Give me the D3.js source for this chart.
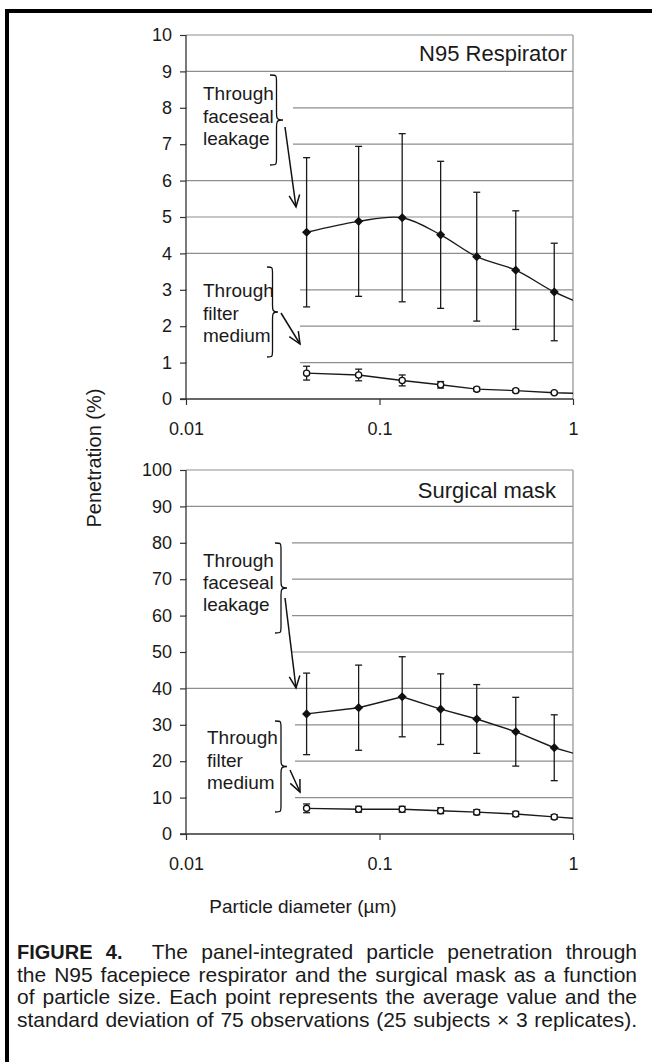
<!DOCTYPE html>
<html><head><meta charset="utf-8">
<script src="https://cdn.jsdelivr.net/npm/d3@7"></script>
<style>
body{margin:0;background:#fff}
svg{display:block}
text{font-family:"Liberation Sans",Arial,Helvetica,sans-serif;fill:#1a1a1a}
</style>
</head><body>
<svg id="c" width="652" height="1062"></svg>
<script>
// ---------- data ----------
const sizes = [0.042, 0.078, 0.131, 0.207, 0.318, 0.506, 0.80, 1.2]; // last point lies beyond the axis (line runs off the plot)
const n95Faceseal   = [4.58, 4.88, 4.98, 4.51, 3.91, 3.54, 2.94, 2.54];
const n95FacesealSD = [2.05, 2.06, 2.31, 2.02, 1.77, 1.63, 1.34];
const n95Filter     = [0.71, 0.66, 0.51, 0.39, 0.27, 0.23, 0.17, 0.15];
const n95FilterSD   = [0.19, 0.16, 0.15, 0.09, 0.05, 0.04, 0.03];
const smFaceseal    = [33.0, 34.7, 37.7, 34.3, 31.6, 28.1, 23.7, 21.0];
const smFacesealSD  = [11.2, 11.7, 11.0, 9.7, 9.45, 9.45, 9.05];
const smFilter      = [7.05, 6.8, 6.8, 6.4, 6.0, 5.5, 4.7, 4.0];
const smFilterSD    = [1.2, 0.8, 0.8, 0.8, 0.7, 0.7, 0.6];
const xTicks = [0.01, 0.1, 1];
const xTickLabels = ["0.01", "0.1", "1"];
const yTicksTop = [0,1,2,3,4,5,6,7,8,9,10];
const yTicksBottom = [0,10,20,30,40,50,60,70,80,90,100];
const panelTitles = ["N95 Respirator", "Surgical mask"];
const annoFaceseal = ["Through", "faceseal", "leakage"];
const annoFilter = ["Through", "filter", "medium"];
const yTitle = "Penetration (%)";
const xTitle = "Particle diameter (\u00b5m)";
const captionLines = [
  [["FIGURE",1],["4.",1],["The",0],["panel-integrated",0],["particle",0],["penetration",0],["through",0]],
  "the N95 facepiece respirator and the surgical mask as a function".split(" ").map(w=>[w,0]),
  "of particle size. Each point represents the average value and the".split(" ").map(w=>[w,0]),
  "standard deviation of 75 observations (25 subjects \u00d7 3 replicates).".split(" ").map(w=>[w,0])
];

const svg = d3.select("#c");
const FONT = '"Liberation Sans",Arial,Helvetica,sans-serif';

// frame (top and left rules)
svg.append("rect").attr("x",5).attr("y",9).attr("width",647).attr("height",4).attr("fill","#000");
svg.append("rect").attr("x",5).attr("y",9).attr("width",4).attr("height",1053).attr("fill","#000");

function brace(g, xa, xb, y0, y1){
  const xm = (xa+xb)/2, ym = (y0+y1)/2, r = 7;
  const p = `M${xa},${y0} C${xm},${y0} ${xm},${y0} ${xm},${y0+r} L${xm},${ym-r} C${xm},${ym-2} ${xm},${ym} ${xb},${ym} C${xm},${ym} ${xm},${ym+2} ${xm},${ym+r} L${xm},${y1-r} C${xm},${y1} ${xm},${y1} ${xa},${y1}`;
  g.append("path").attr("d",p).attr("fill","none").attr("stroke","#111").attr("stroke-width",1.3);
}
function arrow(g, x0, y0, x1, y1){
  g.append("line").attr("x1",x0).attr("y1",y0).attr("x2",x1).attr("y2",y1)
    .attr("stroke","#111").attr("stroke-width",1.5);
  const a = Math.atan2(y1-y0, x1-x0), L = 13, s = 0.42;
  const p = `M${x1-L*Math.cos(a-s)},${y1-L*Math.sin(a-s)} L${x1},${y1} L${x1-L*Math.cos(a+s)},${y1-L*Math.sin(a+s)}`;
  g.append("path").attr("d",p).attr("fill","none").attr("stroke","#111").attr("stroke-width",1.5);
}

function panel(cfg){
  const x = d3.scaleLog().domain([0.01,1]).range([186,573]);
  const y = d3.scaleLinear().domain([0,cfg.ymax]).range([cfg.bottom,cfg.top]);
  const g = svg.append("g");
  const clipId = "clip"+cfg.id;
  g.append("clipPath").attr("id",clipId).append("rect")
    .attr("x",186).attr("y",cfg.top-10).attr("width",573-186).attr("height",cfg.bottom-cfg.top+20);

  // gridlines
  g.selectAll(".grid").data(cfg.yticks.filter(v=>v>0)).join("line")
    .attr("x1",186).attr("x2",573).attr("y1",d=>y(d)).attr("y2",d=>y(d))
    .attr("stroke","#8e8e8e").attr("stroke-width",1.2);
  // plot-area right border
  g.append("line").attr("x1",573).attr("x2",573).attr("y1",y(cfg.ymax)).attr("y2",y(0))
    .attr("stroke","#9a9a9a").attr("stroke-width",1.3);

  // white boxes behind annotations
  cfg.boxes.forEach(b=>{
    g.append("rect").attr("x",b[0]).attr("y",b[1]).attr("width",b[2]-b[0]).attr("height",b[3]-b[1]).attr("fill","#fff");
  });

  // axes
  const ya = d3.axisLeft(y).tickValues(cfg.yticks).tickSize(6).tickFormat(d=>d);
  const yg = g.append("g").attr("transform","translate(186,0)").call(ya);
  yg.select(".domain").attr("stroke","#333").attr("stroke-width",1.3).attr("d",`M0,${y(0)}V${y(cfg.ymax)}`);
  yg.selectAll(".tick line").attr("stroke","#333").attr("stroke-width",1.2);
  yg.selectAll(".tick text").attr("x",-14).attr("font-size",18).attr("font-family",FONT).attr("fill","#1a1a1a");

  const xa = d3.axisBottom(x).tickValues(xTicks).tickSize(6).tickFormat((d,i)=>xTickLabels[i]);
  const xg = g.append("g").attr("transform",`translate(0,${y(0)})`).call(xa);
  xg.select(".domain").attr("stroke","#333").attr("stroke-width",1.3).attr("d",`M180,0H573`);
  xg.selectAll(".tick line").attr("stroke","#333").attr("stroke-width",1.2);
  xg.selectAll(".tick text").attr("y",23).attr("font-size",18).attr("font-family",FONT).attr("fill","#1a1a1a");

  const sg = g.append("g").attr("clip-path",`url(#${clipId})`);
  function series(vals, sds, curve, filled){
    const line = d3.line().x((d,i)=>x(sizes[i])).y(d=>y(d)).curve(curve);
    sg.append("path").attr("d",line(vals)).attr("fill","none").attr("stroke","#1a1a1a").attr("stroke-width",1.4);
    const pts = vals.map((v,i)=>({x:sizes[i],v,sd:sds[i]})).filter(d=>d.x<=1);
    const eb = g.append("g");
    pts.forEach(d=>{
      const cx = x(d.x), yt = y(d.v+d.sd), yb = y(d.v-d.sd);
      eb.append("line").attr("x1",cx).attr("x2",cx).attr("y1",yt).attr("y2",yb).attr("stroke","#1a1a1a").attr("stroke-width",1.3);
      [yt,yb].forEach(yy=>eb.append("line").attr("x1",cx-3.5).attr("x2",cx+3.5).attr("y1",yy).attr("y2",yy).attr("stroke","#1a1a1a").attr("stroke-width",1.3));
    });
    g.append("g").selectAll("path").data(pts).join("path")
      .attr("d", d3.symbol().type(filled?d3.symbolDiamond2:d3.symbolCircle).size(filled?34:30))
      .attr("transform",d=>`translate(${x(d.x)},${y(d.v)})`)
      .attr("fill",filled?"#111":"#fff").attr("stroke","#111").attr("stroke-width",1.3);
  }
  series(cfg.filter, cfg.filterSD, d3.curveLinear, false);
  series(cfg.faceseal, cfg.facesealSD, cfg.smooth?d3.curveCatmullRom.alpha(0.5):d3.curveLinear, true);

  // panel title
  g.append("text").attr("x",cfg.titleX).attr("y",cfg.titleY).attr("text-anchor","end")
    .attr("font-size",22).text(cfg.title);

  // annotations
  cfg.annos.forEach(a=>{
    a.lines.forEach((t,i)=>g.append("text").attr("x",a.tx).attr("y",a.ty[i]).attr("font-size",19).text(t));
    brace(g, a.brace[0], a.brace[1], a.brace[2], a.brace[3]);
    arrow(g, a.arrow[0], a.arrow[1], a.arrow[2], a.arrow[3]);
  });
}

panel({id:1, ymax:10, top:35, bottom:399, yticks:yTicksTop,
  faceseal:n95Faceseal, facesealSD:n95FacesealSD, filter:n95Filter, filterSD:n95FilterSD, smooth:true,
  title:panelTitles[0], titleX:567, titleY:61,
  boxes:[[187,74,293,170],[187,262,300,368]],
  annos:[
    {lines:annoFaceseal, tx:203, ty:[100,122.5,145], brace:[270,283,75,165], arrow:[285,127,296,207]},
    {lines:annoFilter, tx:203, ty:[296.5,319.5,341.5], brace:[267,278,267,357], arrow:[281,313,300,344]}
  ]});

panel({id:2, ymax:100, top:470, bottom:834, yticks:yTicksBottom,
  faceseal:smFaceseal, facesealSD:smFacesealSD, filter:smFilter, filterSD:smFilterSD, smooth:false,
  title:panelTitles[1], titleX:556, titleY:498,
  boxes:[[187,530,292,665],[187,712,295,810]],
  annos:[
    {lines:annoFaceseal, tx:203, ty:[566.5,588.5,610.5], brace:[275,287,543,633], arrow:[285,598,296,688]},
    {lines:annoFilter, tx:207, ty:[744,766.5,789], brace:[275,287,721,812], arrow:[290,770,300,792]}
  ]});

// axis titles
svg.append("text").attr("transform","translate(101,458) rotate(-90)").attr("text-anchor","middle")
  .attr("font-size",20).text(yTitle);
svg.append("text").attr("x",303).attr("y",913).attr("text-anchor","middle")
  .attr("font-size",19).text(xTitle);

// caption (justified)
const capX0 = 17, capX1 = 637, capSize = 21, capY = [959, 981.5, 1004, 1026.5];
captionLines.forEach((words, li)=>{
  const els = words.map(([w,b])=>svg.append("text").attr("y",capY[li]).attr("font-size",b?20:capSize)
      .attr("font-weight",b?"bold":"normal").text(w));
  const widths = els.map(e=>e.node().getComputedTextLength());
  const total = d3.sum(widths);
  const weights = words.slice(0,-1).map((w,i)=> (li===0 && i===1) ? 2.2 : 1);
  const unit = (capX1-capX0-total)/d3.sum(weights);
  let cx = capX0;
  els.forEach((e,i)=>{ e.attr("x",cx); cx += widths[i] + (i<weights.length ? unit*weights[i] : 0); });
});
</script>
</body></html>
